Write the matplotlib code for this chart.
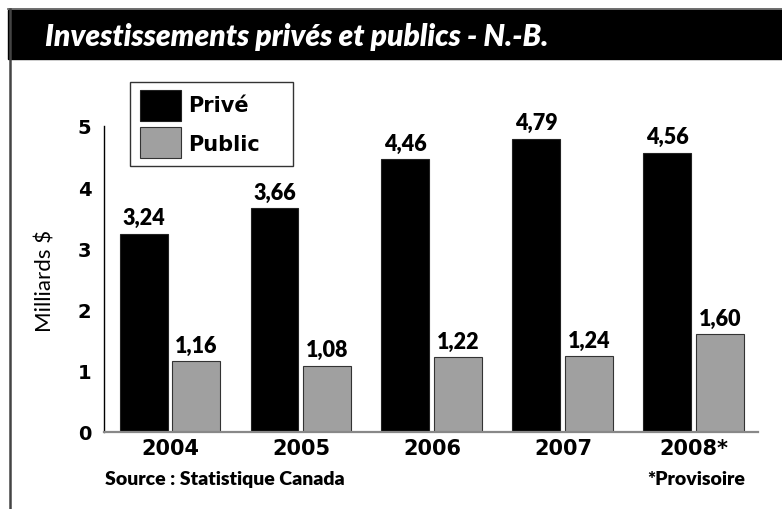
import numpy as np
import matplotlib.pyplot as plt
from matplotlib.patches import Rectangle
from matplotlib.lines import Line2D

# Données (milliards $)
annees = ['2004', '2005', '2006', '2007', '2008*']
prive = [3.24, 3.66, 4.46, 4.79, 4.56]
public = [1.16, 1.08, 1.22, 1.24, 1.60]
yticks = [0, 1, 2, 3, 4, 5]

W, H = 782, 510
fig = plt.figure(figsize=(W / 100, H / 100), dpi=100)

def px(x, y):
    # pixels (origine en haut a gauche) -> coordonnees figure
    return x / W, 1 - y / H

# cadre et bandeau titre
fig.add_artist(Line2D([8 / W, 1], [1 - 10 / H] * 2, color='#555555', lw=1.2))
fig.add_artist(Line2D([10 / W] * 2, [0, 1 - 10 / H], color='#444444', lw=1.8))
fig.add_artist(Rectangle(px(8, 60), (W - 8) / W, 49 / H, color='black'))
fig.text(45 / W, 1 - 37 / H, 'Investissements privés et publics - N.-B.',
         color='white', fontsize=21.5, fontweight='heavy', style='italic',
         family=['Lato', 'DejaVu Sans'], va='center', ha='left')

ax = fig.add_axes([104 / W, 1 - 433 / H, (758 - 104) / W, (433 - 127) / H])
x = np.arange(len(annees))
w = 0.366
b1 = ax.bar(x - 0.203, prive, w, color='black', edgecolor='#222222', lw=0.8)
b2 = ax.bar(x + 0.2, public, w, color='#a0a0a0', edgecolor='#333333', lw=0.8)

for bars, vals in [(b1, prive), (b2, public)]:
    ax.bar_label(bars, labels=[f'{v:.2f}'.replace('.', ',') for v in vals],
                 padding=4, fontsize=15.5, fontweight='heavy',
                 family=['Lato', 'DejaVu Sans'])

ax.set_xlim(-0.505, 4.49)
ax.set_ylim(0, 5)
ax.set_yticks(yticks)
ax.set_yticklabels([str(t) for t in yticks], fontsize=14, fontweight='bold',
                   family='DejaVu Sans')
ax.set_xticks(x)
ax.set_xticklabels(annees, fontsize=15, fontweight='bold', family='DejaVu Sans')
ax.tick_params(axis='both', length=0)
ax.tick_params(axis='y', pad=9)
ax.tick_params(axis='x', pad=4)
for s in ['top', 'right']:
    ax.spines[s].set_visible(False)
ax.spines['left'].set_linewidth(1)
ax.spines['bottom'].set_color('#888888')
ax.spines['bottom'].set_linewidth(1.6)

fig.text(45 / W, 1 - 281 / H, 'Milliards $', rotation=90, fontsize=16,
         family=['Lato', 'DejaVu Sans'], ha='center', va='center')

# legende
fig.add_artist(Rectangle(px(130, 167), 163 / W, 84 / H, facecolor='white',
                         edgecolor='#333333', lw=1))
fig.add_artist(Rectangle(px(140, 122), 41 / W, 31 / H, facecolor='black',
                         edgecolor='#222222', lw=0.8))
fig.add_artist(Rectangle(px(140, 159), 41 / W, 31 / H, facecolor='#a0a0a0',
                         edgecolor='#333333', lw=0.8))
fig.text(188 / W, 1 - 106 / H, 'Privé', fontsize=15, fontweight='bold',
         family='DejaVu Sans', va='center')
fig.text(188 / W, 1 - 145 / H, 'Public', fontsize=15, fontweight='bold',
         family='DejaVu Sans', va='center')

fig.text(105 / W, 1 - 480 / H, 'Source : Statistique Canada', fontsize=14,
         fontweight='heavy', family=['Lato', 'DejaVu Sans'], va='center')
fig.text(745 / W, 1 - 480 / H, '*Provisoire', fontsize=14, fontweight='heavy',
         family=['Lato', 'DejaVu Sans'], va='center', ha='right')

fig.savefig('out.png', dpi=100)
